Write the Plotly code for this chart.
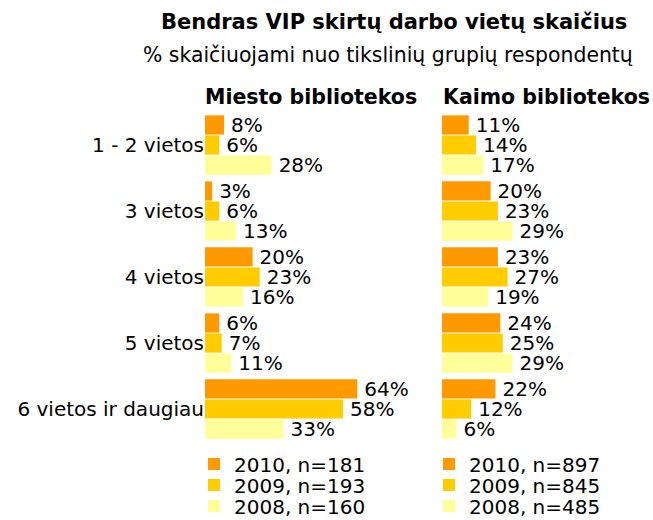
import plotly.graph_objects as go

categories = ["1 - 2 vietos", "3 vietos", "4 vietos", "5 vietos", "6 vietos ir daugiau"]
years = ["2010", "2009", "2008"]
colors = ["#FF9900", "#FFCC00", "#FFFF99"]

miesto_2010 = [8, 3, 20, 6, 64]
miesto_2009 = [6, 6, 23, 7, 58]
miesto_2008 = [28, 13, 16, 11, 33]
miesto_n = [181, 193, 160]

kaimo_2010 = [11, 20, 23, 24, 22]
kaimo_2009 = [14, 23, 27, 25, 12]
kaimo_2008 = [17, 29, 19, 29, 6]
kaimo_n = [897, 845, 485]

FONT = "DejaVu Sans"
W = 653
H = 540  # taller than the 520 window; bottom is cropped like in the reference


def px_x(p):
    return p / W


def px_y(p):
    return 1 - p / H


fig = go.Figure()

panels = [
    ("x", [miesto_2010, miesto_2009, miesto_2008], miesto_n, 0),
    ("x2", [kaimo_2010, kaimo_2009, kaimo_2008], kaimo_n, 3),
]
for xa, series, ns, off in panels:
    for i, (vals, yr, col, n) in enumerate(zip(series, years, colors, ns)):
        lg = "legend" if off + i == 0 else f"legend{off + i + 1}"
        fig.add_trace(go.Bar(
            x=vals, y=categories, orientation="h",
            name=f"{yr}, n={n}",
            marker=dict(color=col, line=dict(width=0)),
            texttemplate="\u2009%{x}%", textposition="outside",
            textfont=dict(family=FONT, size=20, color="#000000"),
            cliponaxis=False, constraintext="none",
            xaxis=xa, yaxis="y", legend=lg,
            hoverinfo="skip",
        ))

fig.update_layout(
    width=W, height=H,
    margin=dict(l=0, r=0, t=0, b=0),
    paper_bgcolor="white", plot_bgcolor="white",
    barmode="group", bargap=0.09, bargroupgap=0.04,
    font=dict(family=FONT, size=20, color="#000000"),
    xaxis=dict(domain=[px_x(205), px_x(437)], range=[0, 232 / 2.38], visible=False),
    xaxis2=dict(domain=[px_x(442), 1.0], range=[0, (653 - 442) / 2.43], visible=False),
    yaxis=dict(domain=[px_y(442), px_y(112)], anchor="x",
               categoryorder="array", categoryarray=categories,
               autorange="reversed", showgrid=False, zeroline=False,
               showline=False, ticks="", tickfont=dict(family=FONT, size=20)),
    showlegend=True,
    hovermode=False,
)

leg_rows = [464, 485, 506]
leg_x = [194, 429]
for p in range(2):
    for i in range(3):
        idx = p * 3 + i
        key = "legend" if idx == 0 else f"legend{idx + 1}"
        fig.update_layout({key: dict(
            x=px_x(leg_x[p]), y=px_y(leg_rows[i]), xanchor="left", yanchor="middle",
            bgcolor="rgba(0,0,0,0)", borderwidth=0,
            font=dict(family=FONT, size=20, color="#000000"),
        )})

anns = [
    ("<b>Bendras VIP skirtų darbo vietų skaičius</b>", 394, 22, 21),
    ("% skaičiuojami nuo tikslinių grupių respondentų", 388, 55, 20.4),
    ("<b>Miesto bibliotekos</b>", 311, 97, 20.5),
    ("<b>Kaimo bibliotekos</b>", 546, 97, 20.5),
]
for txt, x, y, s in anns:
    fig.add_annotation(text=txt, x=px_x(x), y=px_y(y), xref="paper", yref="paper",
                       xanchor="center", yanchor="middle", showarrow=False,
                       font=dict(family=FONT, size=s, color="#000000"))

page_css = ("document.body.style.margin='0';"
            "document.body.style.overflow='hidden';"
            "document.documentElement.style.overflow='hidden';")
fig.write_html("out.html", post_script=page_css,
               config={"displayModeBar": False, "staticPlot": False})
